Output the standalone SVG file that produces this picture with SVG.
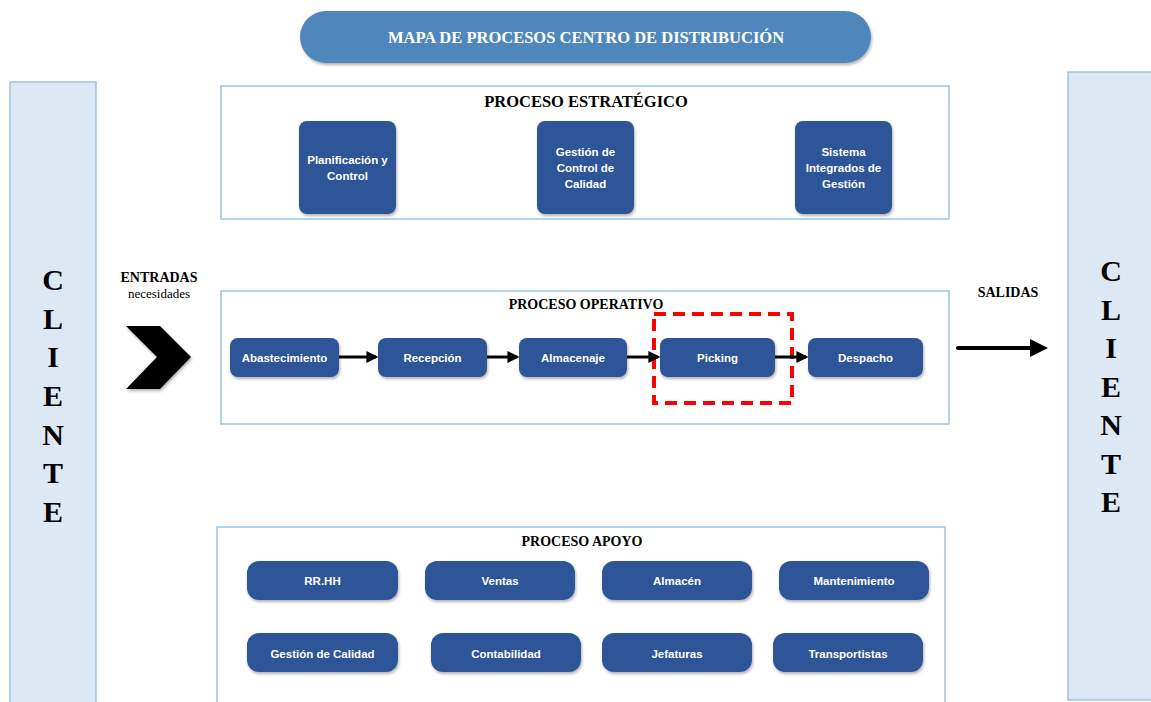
<svg xmlns="http://www.w3.org/2000/svg" width="1151" height="702" viewBox="0 0 1151 702">
<style>
.bg{fill:#ffffff}
.panel{fill:#dde8f5;stroke:#9dc3e6;stroke-width:1.5}
.frame{fill:#ffffff;stroke:#9dc3e6;stroke-width:1.5}
.node{fill:#2f5597;filter:url(#sh)}
.nt{font-family:"Liberation Sans",Arial,sans-serif;font-weight:bold;font-size:11.5px;fill:#ffffff;text-anchor:middle}
.ht{font-family:"Liberation Serif","Times New Roman",serif;font-weight:bold;font-size:14px;fill:#000;text-anchor:middle}
.big{font-size:16.5px}
.cl{font-family:"Liberation Serif","Times New Roman",serif;font-weight:bold;font-size:30px;fill:#000;text-anchor:middle}
.conn{stroke:#000;stroke-width:3;fill:none;marker-end:url(#ah)}
</style>
<defs>
<filter id="sh" x="-10%" y="-10%" width="125%" height="130%">
<feDropShadow dx="1" dy="2" stdDeviation="1.5" flood-color="#000" flood-opacity="0.3"/>
</filter>
<marker id="ah" markerWidth="4" markerHeight="4" refX="3.2" refY="2" orient="auto" markerUnits="strokeWidth">
<path d="M0,0 L4,2 L0,4 Z" fill="#000"/>
</marker>
</defs>
<rect class="bg" x="0" y="0" width="1151" height="702"/>

<g id="title">
<rect x="300" y="11" width="571" height="52" rx="26" fill="#4f87bd" filter="url(#sh)"/>
<text x="586" y="43" font-family="'Liberation Serif','Times New Roman',serif" font-weight="bold" font-size="16.5" fill="#ffffff" text-anchor="middle">MAPA DE PROCESOS CENTRO DE DISTRIBUCIÓN</text>
</g>

<g id="cliente-izq">
<rect class="panel" x="10" y="82" width="86" height="630"/>
<text class="cl" x="53" y="290">C</text>
<text class="cl" x="53" y="329">L</text>
<text class="cl" x="53" y="367">I</text>
<text class="cl" x="53" y="406">E</text>
<text class="cl" x="53" y="445">N</text>
<text class="cl" x="53" y="483">T</text>
<text class="cl" x="53" y="522">E</text>
</g>

<g id="cliente-der">
<rect class="panel" x="1068" y="72" width="100" height="628"/>
<text class="cl" x="1111" y="281">C</text>
<text class="cl" x="1111" y="320">L</text>
<text class="cl" x="1111" y="358">I</text>
<text class="cl" x="1111" y="397">E</text>
<text class="cl" x="1111" y="435">N</text>
<text class="cl" x="1111" y="474">T</text>
<text class="cl" x="1111" y="512">E</text>
</g>

<g id="entradas">
<text class="ht" x="159" y="282">ENTRADAS</text>
<text x="159" y="298" font-family="'Liberation Serif','Times New Roman',serif" font-size="13" fill="#000" text-anchor="middle">necesidades</text>
<polygon points="126,326 160,326 191,357 160,389 126,389 157,357" fill="#000" filter="url(#sh)"/>
</g>

<g id="salidas">
<text class="ht" x="1008" y="297">SALIDAS</text>
</g>

<g id="estrategico">
<rect class="frame" x="221" y="86" width="728" height="133"/>
<text class="ht big" x="586" y="107">PROCESO ESTRATÉGICO</text>
<g id="planificacion"><rect class="node" x="299" y="121" width="97" height="93" rx="8"/>
<text class="nt" x="347.5" y="164">Planificación y</text><text class="nt" x="347.5" y="180">Control</text></g>
<g id="gestion-control"><rect class="node" x="537" y="121" width="97" height="93" rx="8"/>
<text class="nt" x="585.5" y="156">Gestión de</text><text class="nt" x="585.5" y="172">Control de</text><text class="nt" x="585.5" y="188">Calidad</text></g>
<g id="sistema"><rect class="node" x="795" y="121" width="97" height="93" rx="8"/>
<text class="nt" x="843.5" y="156">Sistema</text><text class="nt" x="843.5" y="172">Integrados de</text><text class="nt" x="843.5" y="188">Gestión</text></g>
</g>

<g id="operativo">
<rect class="frame" x="221" y="291" width="728" height="133"/>
<text class="ht" x="586" y="309">PROCESO OPERATIVO</text>
<g id="abastecimiento"><rect class="node" x="230" y="338" width="109" height="39" rx="8"/><text class="nt" x="284.5" y="361.5">Abastecimiento</text></g>
<g id="recepcion"><rect class="node" x="378" y="338" width="109" height="39" rx="8"/><text class="nt" x="432.5" y="361.5">Recepción</text></g>
<g id="almacenaje"><rect class="node" x="519" y="338" width="108" height="39" rx="8"/><text class="nt" x="573" y="361.5">Almacenaje</text></g>
<g id="picking"><rect class="node" x="660" y="338" width="115" height="39" rx="8"/><text class="nt" x="717.5" y="361.5">Picking</text></g>
<g id="despacho"><rect class="node" x="808" y="338" width="115" height="39" rx="8"/><text class="nt" x="865.5" y="361.5">Despacho</text></g>
<rect id="resaltado" x="654" y="314" width="138" height="89" fill="none" stroke="#ff0000" stroke-width="4" stroke-dasharray="12,7"/>
</g>

<g id="connectors">
<line class="conn" x1="339" y1="357" x2="376" y2="357"/>
<line class="conn" x1="487" y1="357" x2="517" y2="357"/>
<line class="conn" x1="627" y1="357" x2="658" y2="357"/>
<line class="conn" x1="775" y1="357" x2="806" y2="357"/>
<line x1="958" y1="348" x2="1032" y2="348" stroke="#000" stroke-width="4" stroke-linecap="round"/>
<polygon points="1030,339 1048,348 1030,357" fill="#000"/>
</g>

<g id="apoyo">
<rect class="frame" x="217" y="527" width="728" height="185"/>
<text class="ht" x="582" y="546">PROCESO APOYO</text>
<g id="rrhh"><rect class="node" x="247" y="561" width="151" height="39" rx="12"/><text class="nt" x="322.5" y="584.5">RR.HH</text></g>
<g id="ventas"><rect class="node" x="425" y="561" width="150" height="39" rx="12"/><text class="nt" x="500" y="584.5">Ventas</text></g>
<g id="almacen"><rect class="node" x="602" y="561" width="150" height="39" rx="12"/><text class="nt" x="677" y="584.5">Almacén</text></g>
<g id="mantenimiento"><rect class="node" x="779" y="561" width="150" height="39" rx="12"/><text class="nt" x="854" y="584.5">Mantenimiento</text></g>
<g id="gestion-calidad"><rect class="node" x="247" y="633" width="151" height="39" rx="12"/><text class="nt" x="322.5" y="657.5">Gestión de Calidad</text></g>
<g id="contabilidad"><rect class="node" x="431" y="633" width="150" height="39" rx="12"/><text class="nt" x="506" y="657.5">Contabilidad</text></g>
<g id="jefaturas"><rect class="node" x="602" y="633" width="150" height="39" rx="12"/><text class="nt" x="677" y="657.5">Jefaturas</text></g>
<g id="transportistas"><rect class="node" x="773" y="633" width="150" height="39" rx="12"/><text class="nt" x="848" y="657.5">Transportistas</text></g>
</g>
</svg>
